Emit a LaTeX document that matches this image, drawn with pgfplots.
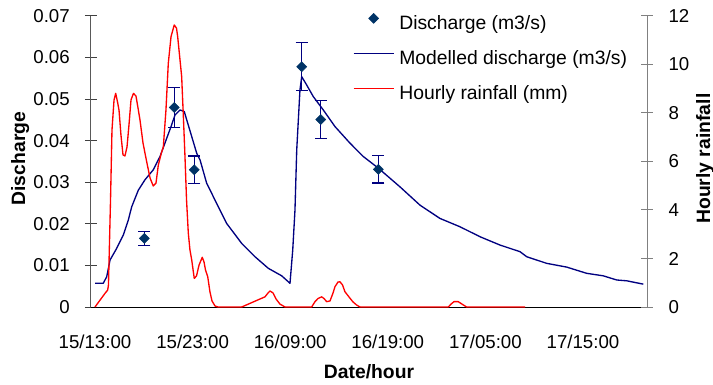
\documentclass[border=0pt]{standalone}
\usepackage{fontspec}
\setmainfont{Liberation Sans}
\usepackage{pgfplots}
\usepackage{pgfplotstable}
\pgfplotsset{compat=1.18}
\definecolor{navyline}{RGB}{0,0,128}
\definecolor{mk}{RGB}{0,51,102}

\pgfplotstableread{
h q e
5.05 0.0165 0.00165
8.12 0.0480 0.0048
10.17 0.0330 0.0033
21.18 0.0578 0.00578
23.13 0.0451 0.00451
29.03 0.0331 0.00331
}\discharge

\pgfplotstableread{
h q
0 0.0057
0.85 0.0057
1.20 0.0073
1.54 0.0113
2.22 0.0141
2.90 0.0173
3.41 0.0209
3.76 0.0241
4.44 0.0281
5.12 0.0306
5.97 0.0330
6.66 0.0362
7.35 0.0406
7.79 0.0434
8.20 0.0462
8.71 0.0474
9.15 0.0470
9.40 0.0450
9.91 0.0410
10.42 0.0370
10.76 0.0354
11.44 0.0298
12.30 0.0257
13.49 0.0201
15.03 0.0153
16.39 0.0121
17.76 0.0093
19.13 0.0075
19.98 0.0057
20.26 0.0137
20.49 0.0233
20.67 0.0378
21.00 0.0522
21.18 0.0554
21.69 0.0534
22.37 0.0506
23.39 0.0474
24.59 0.0434
26.13 0.0394
27.49 0.0362
29.03 0.0334
31.25 0.0289
33.30 0.0245
35.35 0.0213
37.40 0.0193
39.45 0.0169
41.50 0.0149
43.55 0.0133
44.23 0.0121
46.28 0.0105
48.33 0.0096
50.38 0.0081
52.08 0.0075
53.45 0.0065
54.48 0.0063
56.18 0.0055
}\modelled

\pgfplotstableread{
h r
0 0
1.02 0.56
1.30 0.70
1.38 0.91
1.59 4.41
1.74 7.30
1.95 8.54
2.12 8.81
2.31 8.45
2.46 8.12
2.66 7.09
2.87 6.27
3.07 6.23
3.28 6.60
3.48 7.50
3.69 8.54
3.94 8.81
4.20 8.70
4.41 8.20
4.61 7.71
4.92 6.76
5.30 5.98
5.64 5.32
5.97 4.99
6.25 5.11
6.49 5.86
6.80 6.35
7.00 6.60
7.27 8.12
7.51 10.05
7.79 11.15
8.12 11.63
8.35 11.50
8.47 11.15
8.71 10.19
8.88 9.50
9.07 7.71
9.22 6.20
9.38 4.41
9.56 3.05
9.73 2.35
9.91 1.94
10.17 1.18
10.40 1.28
10.66 1.73
10.99 2.05
11.17 1.86
11.32 1.53
11.55 1.25
11.78 0.62
11.99 0.25
12.30 0.04
12.60 0
15.03 0
17.42 0.42
17.73 0.58
17.93 0.66
18.24 0.58
18.55 0.33
18.95 0.12
19.47 0
22.20 0
22.54 0.22
22.85 0.35
23.23 0.42
23.46 0.35
23.74 0.22
24.08 0.25
24.39 0.58
24.59 0.84
24.90 1.03
25.10 1.04
25.36 0.91
25.61 0.63
26.13 0.36
26.43 0.21
26.81 0.08
27.15 0
36.20 0
36.48 0.12
36.78 0.22
37.22 0.22
37.60 0.12
38.08 0
44.06 0
}\rain

\pgfplotsset{
  base/.style={
    scale only axis, width=417pt, height=218.25pt,
    xmin=-0.41, xmax=56.56,
    clip=false,
    scaled y ticks=false, scaled x ticks=false,
    tick label style={font=\fontsize{14}{17}\selectfont},
    label style={font=\fontsize{14.5}{17}\selectfont\bfseries},
    legend image code/.code={\draw[mark repeat=2,mark phase=2] plot coordinates {(0pt,5pt)(15pt,5pt)(30pt,5pt)};},
  }
}

\begin{document}
\begin{tikzpicture}
\useasboundingbox (-68.25pt,-58.5pt) rectangle (466.5pt,230.25pt);
\begin{axis}[base,
  ymin=0, ymax=0.07,
  axis x line*=bottom, axis y line*=left,
  xtick={0,10,20,30,40,50},
  xticklabels={15/13:00,15/23:00,16/09:00,16/19:00,17/05:00,17/15:00},
  xtick style={draw=none},
  ytick={0,0.01,0.02,0.03,0.04,0.05,0.06,0.07},
  yticklabels={0,0.01,0.02,0.03,0.04,0.05,0.06,0.07},
  tick align=center, major tick length=9pt,
  ytick style={black!75, line width=0.75pt},
  x axis line style={black, line width=0.75pt, -},
  y axis line style={black!65, line width=0.75pt, -},
  xticklabel style={anchor=base, inner sep=0pt, yshift=-26.8pt},
  yticklabel style={anchor=east, inner sep=0pt, xshift=-11.25pt},
  xlabel={Date/hour}, ylabel={Discharge},
  xlabel style={at={(axis description cs:0.5,0)}, anchor=base, yshift=-53.25pt},
  ylabel style={at={(axis description cs:-0.1187,0.51)}, anchor=base},
]
\addplot[navyline, line width=1pt, line join=round] table[x=h,y=q] {\modelled};
\addplot[only marks, mark=square*, mark size=2.65pt, mark options={rotate=45, fill=mk, draw=mk},
  error bars/.cd, y dir=both, y explicit,
  error bar style={navyline, line width=1pt},
  error mark options={rotate=90, navyline, mark size=4.6pt, line width=1pt}]
  table[x=h, y=q, y error=e] {\discharge};
\end{axis}
\begin{axis}[base,
  ymin=0, ymax=12,
  hide x axis,
  axis y line*=right,
  ytick={0,2,4,6,8,10,12},
  yticklabels={0,2,4,6,8,10,12},
  tick align=center, major tick length=8.5pt,
  ytick style={black!50, line width=0.75pt},
  y axis line style={black!50, line width=0.75pt, -},
  yticklabel style={anchor=west, inner sep=0pt, xshift=11.75pt},
  ylabel={Hourly rainfall},
  ylabel style={at={(axis description cs:1.1133,0.51)}, anchor=base},
  legend style={at={(axis description cs:0.4712,1.009)}, anchor=north west,
    draw=none, fill=none, inner sep=0pt, outer sep=0pt,
    row sep=12.75pt, column sep=3.75pt,
    font=\fontsize{14.5}{17}\selectfont,
    nodes={inner sep=0pt, text height=10pt, text depth=3.5pt}},
  legend cell align=left,
]
\addlegendimage{only marks, mark=square*, mark size=2.65pt, mark options={rotate=45, fill=mk, draw=mk}}
\addlegendentry{Discharge (m3/s)}
\addlegendimage{navyline, line width=1pt}
\addlegendentry{Modelled discharge (m3/s)}
\addplot[red, line width=1pt, line join=round] table[x=h,y=r] {\rain};
\addlegendentry{Hourly rainfall (mm)}
\end{axis}
\end{tikzpicture}
\end{document}
